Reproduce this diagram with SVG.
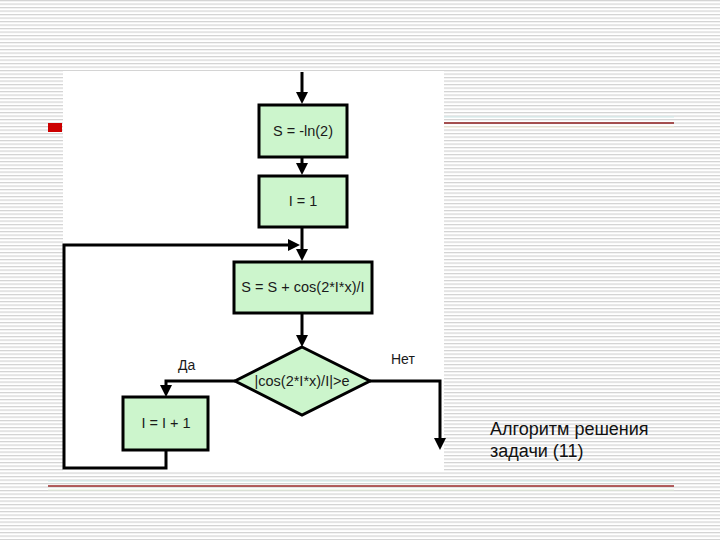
<svg xmlns="http://www.w3.org/2000/svg" width="720" height="540" viewBox="0 0 720 540">
  <defs>
    <pattern id="stripes" x="0" y="0" width="8" height="3.5" patternUnits="userSpaceOnUse">
      <rect x="0" y="0" width="8" height="3.5" fill="#ffffff"/>
      <rect x="0" y="0" width="8" height="1.2" fill="#d2d2d2"/>
    </pattern>
    <marker id="arrow" viewBox="0 0 12 12" refX="6" refY="6" markerWidth="12" markerHeight="12" markerUnits="userSpaceOnUse" orient="auto">
      <path d="M0,0 L12,6 L0,12 z" fill="#000000"/>
    </marker>
    <style>
      .box { fill: #ccf5cc; stroke: #000000; stroke-width: 3; }
      .line { fill: none; stroke: #000000; stroke-width: 3; }
      .t { font-family: "Liberation Sans", Arial, sans-serif; font-size: 14.5px; fill: #1a1a1a; text-anchor: middle; }
      .lbl { font-family: "Liberation Sans", Arial, sans-serif; font-size: 14px; fill: #1a1a1a; }
      .cap { font-family: "Liberation Sans", Arial, sans-serif; font-size: 18px; fill: #111111; }
    </style>
  </defs>

  <!-- background -->
  <rect x="0" y="0" width="720" height="540" fill="url(#stripes)"/>

  <!-- decorations -->
  <line x1="444" y1="117" x2="674" y2="117" stroke="#cfeaea" stroke-width="1"/>
  <line x1="444" y1="123" x2="674" y2="123" stroke="#8e1d1d" stroke-width="1.5"/>
  <line x1="444" y1="127" x2="674" y2="127" stroke="#f3eed8" stroke-width="1"/>
  <rect x="48" y="123" width="14" height="9" fill="#cc0000"/>
  <line x1="48" y1="481" x2="674" y2="481" stroke="#cfeaea" stroke-width="1"/>
  <line x1="48" y1="486" x2="674" y2="486" stroke="#9a2a2a" stroke-width="1.5"/>
  <line x1="48" y1="490" x2="674" y2="490" stroke="#e0ecd8" stroke-width="1"/>

  <!-- picture area -->
  <rect x="63" y="71" width="381" height="401" fill="#ffffff"/>

  <!-- connectors -->
  <g id="connectors">
    <line class="line" x1="302" y1="72" x2="302" y2="98" marker-end="url(#arrow)"/>
    <line class="line" x1="302" y1="157" x2="302" y2="169" marker-end="url(#arrow)"/>
    <line class="line" x1="302" y1="227" x2="302" y2="255" marker-end="url(#arrow)"/>
    <path class="line" d="M166,450 V468 H64 V245 H294" marker-end="url(#arrow)"/>
    <line class="line" x1="302" y1="313" x2="302" y2="341" marker-end="url(#arrow)"/>
    <path class="line" d="M235,381 H166 V391" marker-end="url(#arrow)"/>
    <path class="line" d="M370,381 H440 V444" marker-end="url(#arrow)"/>
    <text class="lbl" x="178" y="370">Да</text>
    <text class="lbl" x="391" y="364">Нет</text>
  </g>

  <!-- nodes -->
  <g id="node-s-init">
    <rect class="box" x="259" y="105" width="88" height="52"/>
    <text class="t" x="303" y="136">S = -ln(2)</text>
  </g>
  <g id="node-i-init">
    <rect class="box" x="259" y="176" width="88" height="51"/>
    <text class="t" x="303" y="206">I = 1</text>
  </g>
  <g id="node-sum">
    <rect class="box" x="234" y="262" width="138" height="51"/>
    <text class="t" x="303" y="292">S = S + cos(2*I*x)/I</text>
  </g>
  <g id="node-cond">
    <polygon class="box" points="302,347 370,381 302,415 235,381"/>
    <text class="t" x="302" y="386">|cos(2*I*x)/I|&gt;e</text>
  </g>
  <g id="node-inc">
    <rect class="box" x="123" y="397" width="85" height="53"/>
    <text class="t" x="166" y="428">I = I + 1</text>
  </g>

  <!-- caption -->
  <g id="caption">
    <text class="cap" x="490" y="435">Алгоритм решения</text>
    <text class="cap" x="490" y="457">задачи (11)</text>
  </g>
</svg>
